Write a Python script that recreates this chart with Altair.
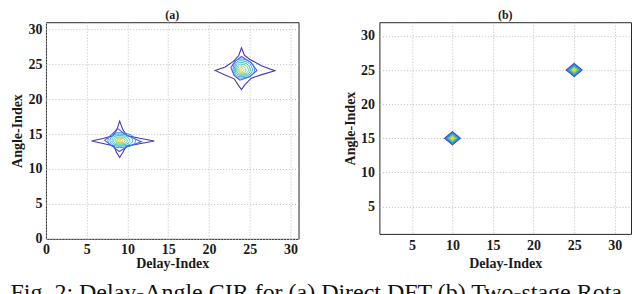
import altair as alt
import pandas as pd

FONT = "Liberation Serif"

# ---------------- Panel (a): contour lines of the direct-DFT CIR ----------------
A_XTICKS = [0, 5, 10, 15, 20, 25, 30]
A_YTICKS = [0, 5, 10, 15, 20, 25, 30]

# peak 1 (around delay 9, angle 14): outer star-shaped contour and second contour
P1_L1_X = [5.6, 7.0, 8.25, 8.7, 9.05, 9.45, 9.9, 11.5, 13.3, 11.5, 9.85, 9.45, 9.05, 8.65, 8.35, 7.0]
P1_L1_Y = [14.0, 14.35, 14.75, 15.6, 16.85, 15.6, 14.8, 14.4, 14.0, 13.6, 13.25, 12.4, 11.65, 12.4, 13.3, 13.65]
P1_L2_X = [7.2, 8.0, 8.8, 9.7, 11.7, 9.9, 9.0, 8.1]
P1_L2_Y = [14.1, 14.85, 15.8, 14.95, 13.9, 13.15, 12.5, 13.3]
# inner contours of peak 1 (levels 3..9): centre and extents
P1_CX, P1_CY = 9.0, 14.05
P1_IN_LEFT = [7.6, 7.85, 8.1, 8.3, 8.5, 8.65, 8.8]
P1_IN_RIGHT = [11.0, 10.65, 10.3, 10.0, 9.7, 9.45, 9.2]
P1_IN_BOTTOM = [13.05, 13.25, 13.4, 13.55, 13.7, 13.8, 13.92]
P1_IN_TOP = [15.2, 15.0, 14.8, 14.6, 14.45, 14.3, 14.15]

# peak 2 (around delay 24, angle 24)
P2_L1_X = [20.75, 22.0, 23.0, 23.65, 24.0, 24.35, 25.0, 26.5, 28.1, 26.5, 25.2, 24.45, 24.0, 23.6, 23.1, 21.9]
P2_L1_Y = [24.1, 24.6, 25.4, 26.2, 27.35, 26.3, 25.7, 24.75, 24.05, 23.5, 23.0, 22.1, 21.35, 22.0, 22.9, 23.5]
P2_L2_X = [22.7, 23.2, 24.0, 25.1, 25.9, 25.0, 23.8, 23.1]
P2_L2_Y = [24.5, 25.4, 26.1, 25.3, 24.1, 23.2, 22.7, 23.4]
P2_CX, P2_CY = 23.9, 24.15
P2_IN_LEFT = [22.95, 23.1, 23.25, 23.4, 23.55, 23.7, 23.8]
P2_IN_RIGHT = [25.6, 25.35, 25.1, 24.85, 24.55, 24.3, 24.05]
P2_IN_BOTTOM = [23.0, 23.2, 23.4, 23.55, 23.7, 23.85, 23.98]
P2_IN_TOP = [25.75, 25.5, 25.25, 25.0, 24.75, 24.5, 24.3]

# ---------------- Panel (b): two-stage rotation, on-grid peaks ----------------
B_XTICKS = [5, 10, 15, 20, 25, 30]
B_YTICKS = [5, 10, 15, 20, 25, 30]
B_PEAK_X = [10, 25]
B_PEAK_Y = [15, 25]
B_LEVEL_RADIUS = [0.95, 0.85, 0.75, 0.65, 0.55, 0.45, 0.35, 0.25, 0.15]

LEVELS = [1, 2, 3, 4, 5, 6, 7, 8, 9]
PARULA = ["#4634b8", "#4759ea", "#2f82f2", "#1ba3e0", "#1bbcc2", "#45c898",
          "#90ca60", "#d2c23f", "#f5d52a"]

# caption line as far as it is visible in the figure (cut by the right edge)
CAPTION = "Fig. 2: Delay-Angle CIR for (a) Direct DFT (b) Two-stage Rota"

# ---------------- build tables ----------------
rows_lin, rows_smooth, rows_b = [], [], []


def add_path(rows, pid, level, xs, ys):
    for i, (x, y) in enumerate(zip(xs, ys)):
        rows.append({"path": pid, "level": level, "ord": i, "x": x, "y": y})


add_path(rows_lin, "p1l1", 1, P1_L1_X, P1_L1_Y)
add_path(rows_lin, "p1l2", 2, P1_L2_X, P1_L2_Y)
add_path(rows_lin, "p2l1", 1, P2_L1_X, P2_L1_Y)
add_path(rows_lin, "p2l2", 2, P2_L2_X, P2_L2_Y)

K = 0.72
for tag, cx, cy, L, R, B, T in [
    ("p1", P1_CX, P1_CY, P1_IN_LEFT, P1_IN_RIGHT, P1_IN_BOTTOM, P1_IN_TOP),
    ("p2", P2_CX, P2_CY, P2_IN_LEFT, P2_IN_RIGHT, P2_IN_BOTTOM, P2_IN_TOP),
]:
    for j, (l, r, b, t) in enumerate(zip(L, R, B, T)):
        xs = [l, cx - K * (cx - l), cx, cx + K * (r - cx), r, cx + K * (r - cx), cx, cx - K * (cx - l)]
        ys = [cy, cy + K * (t - cy), t, cy + K * (t - cy), cy, cy - K * (cy - b), b, cy - K * (cy - b)]
        add_path(rows_smooth, f"{tag}in{j}", j + 3, xs, ys)

for k, (px, py) in enumerate(zip(B_PEAK_X, B_PEAK_Y)):
    for j, rad in enumerate(B_LEVEL_RADIUS):
        add_path(rows_b, f"b{k}_{j}", j + 1,
                 [px - rad, px, px + rad, px], [py, py + rad, py, py - rad])

df_lin = pd.DataFrame(rows_lin)
df_smooth = pd.DataFrame(rows_smooth)
df_b = pd.DataFrame(rows_b)


def make_axis(values, title, label_pad, title_pad):
    return alt.Axis(values=values, title=title, grid=True, gridDash=[1, 2],
                    gridColor="#bcbcbc", gridWidth=1, ticks=False, domain=False,
                    labelFlush=False, labelFont=FONT, labelFontSize=14,
                    labelFontWeight="bold", labelColor="#1a1a1a", labelPadding=label_pad,
                    titleFont=FONT, titleFontSize=14, titleFontWeight="bold",
                    titleColor="#1a1a1a", titlePadding=title_pad)


color_enc = alt.Color("level:O", scale=alt.Scale(domain=LEVELS, range=PARULA), legend=None)

xa = alt.X("x:Q", scale=alt.Scale(domain=[0, 31], nice=False, zero=False),
           axis=make_axis(A_XTICKS, "Delay-Index", 4, 0))
ya = alt.Y("y:Q", scale=alt.Scale(domain=[0, 31], nice=False, zero=False),
           axis=make_axis(A_YTICKS, "Angle-Index", 4, 3))

a_lin = alt.Chart(df_lin).mark_line(interpolate="linear-closed", strokeWidth=1.1).encode(
    x=xa, y=ya, color=color_enc, detail="path:N", order="ord:Q")
a_smooth = alt.Chart(df_smooth).mark_line(interpolate="cardinal-closed", strokeWidth=0.9).encode(
    x=xa, y=ya, color=color_enc, detail="path:N", order="ord:Q")

panel_a = alt.layer(a_lin, a_smooth).properties(
    width=253, height=217,
    title=alt.TitleParams("(a)", font=FONT, fontSize=12, fontWeight="bold",
                          color="#1a1a1a", offset=0))

xb = alt.X("x:Q", scale=alt.Scale(domain=[1, 32], nice=False, zero=False),
           axis=make_axis(B_XTICKS, "Delay-Index", 5, 4))
yb = alt.Y("y:Q", scale=alt.Scale(domain=[1, 32], nice=False, zero=False),
           axis=make_axis(B_YTICKS, "Angle-Index", 5, 3))

panel_b = alt.Chart(df_b).mark_line(interpolate="linear-closed", strokeWidth=1.3).encode(
    x=xb, y=yb, color=color_enc, detail="path:N", order="ord:Q"
).properties(
    width=252, height=212,
    title=alt.TitleParams("(b)", font=FONT, fontSize=12, fontWeight="bold",
                          color="#1a1a1a", offset=0))

chart = alt.hconcat(panel_a, panel_b, spacing=43).properties(
    title=alt.TitleParams(CAPTION, orient="bottom", anchor="start", font=FONT,
                          fontSize=24, fontWeight="normal", color="#111111", offset=10),
    padding={"left": 2, "top": 0, "right": 0, "bottom": 0},
).configure_view(stroke="#262626", strokeWidth=1)

chart.save("out.html", embed_options={"renderer": "svg", "actions": False})
